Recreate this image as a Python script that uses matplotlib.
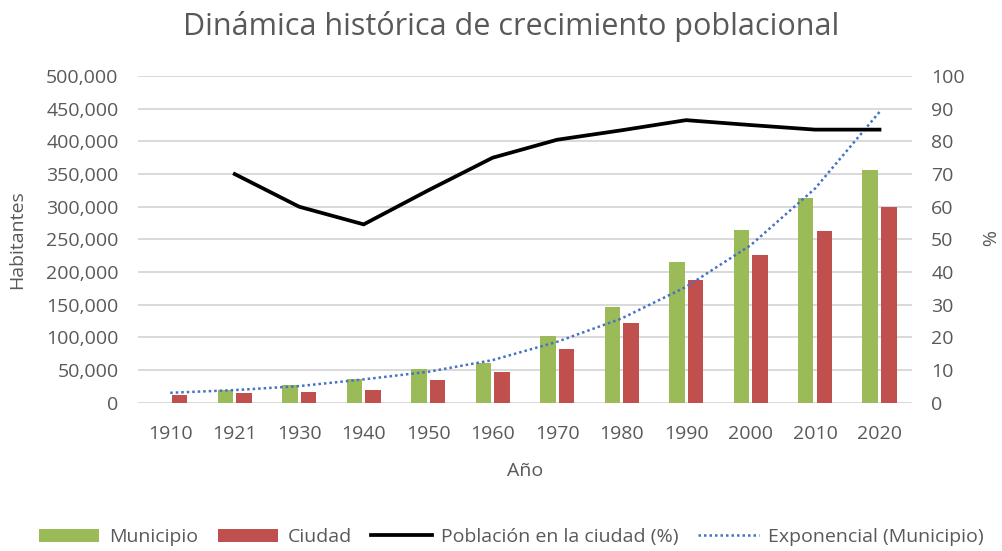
import numpy as np
import matplotlib
matplotlib.use("Agg")
import matplotlib.pyplot as plt
from matplotlib.ticker import FuncFormatter

plt.rcParams['font.family'] = ['Open Sans', 'DejaVu Sans']

years = ["1910", "1921", "1930", "1940", "1950", "1960", "1970", "1980", "1990", "2000", "2010", "2020"]
municipio = [np.nan, 19500, 27000, 36000, 51000, 61000, 102000, 146000, 216000, 265000, 314000, 356000]
ciudad = [12000, 14500, 16000, 19500, 35000, 46500, 82000, 121500, 188000, 226000, 263000, 299000]
pct_ciudad = [np.nan, 70, 60, 54.6, 65, 75, 80.5, 83.4, 86.5, 85, 83.6, 83.6]
trend_municipio = [15300, 19400, 25500, 35800, 47400, 65300, 93300, 129000, 177400, 241000, 327800, 445000]

GREEN = "#9BBB59"
RED = "#C0504D"
BLUE = "#4472C4"
GREY = "#595959"

fig = plt.figure(figsize=(10.03, 5.51), dpi=100)
ax = fig.add_axes([0.1376, 0.269, 0.7714, 0.593])
ax2 = ax.twinx()

x = np.arange(len(years))
w = 0.24
b1 = ax.bar(x - 0.144, municipio, w, color=GREEN, label="Municipio", zorder=2)
b2 = ax.bar(x + 0.144, ciudad, w, color=RED, label="Ciudad", zorder=2)
tr, = ax.plot(x, trend_municipio, linestyle=(0, (1, 1.2)), color=BLUE, lw=1.8,
              label="Exponencial (Municipio)", zorder=3)
ln, = ax2.plot(x, pct_ciudad, color="black", lw=2.7, label="Población en la ciudad (%)",
               solid_joinstyle="miter")

ax.set_xlim(-0.5, len(years) - 0.5)
ax.set_ylim(0, 500000)
ax.set_yticks(np.arange(0, 500001, 50000))
ax.yaxis.set_major_formatter(FuncFormatter(lambda v, p: f"{int(v):,}"))
ax2.set_ylim(0, 100)
ax2.set_yticks(np.arange(0, 101, 10))
ax.set_xticks(x)
ax.set_xticklabels(years)

ax.grid(axis="y", color="#D9D9D9", lw=1.4, zorder=0)
ax.set_axisbelow(True)
for a in (ax, ax2):
    for s in a.spines.values():
        s.set_visible(False)
    a.tick_params(length=0, labelsize=14, colors=GREY, pad=14)
ax.tick_params(axis="x", pad=16)

ax.set_ylabel("Habitantes", fontsize=14, color=GREY, labelpad=14)
ax2.set_ylabel("%", fontsize=14, color=GREY, rotation=270, labelpad=22)
ax.set_xlabel("Año", fontsize=14, color=GREY, labelpad=14)
fig.suptitle("Dinámica histórica de crecimiento poblacional", fontsize=22, color=GREY,
             x=0.51, y=0.98)

fig.legend(handles=[b1, b2, ln, tr], loc="center", bbox_to_anchor=(0.51, 0.025), ncol=4,
           frameon=False, fontsize=14, labelcolor=GREY, handlelength=3.1,
           handletextpad=0.5, columnspacing=1.0)

fig.savefig("out.png", dpi=100)
